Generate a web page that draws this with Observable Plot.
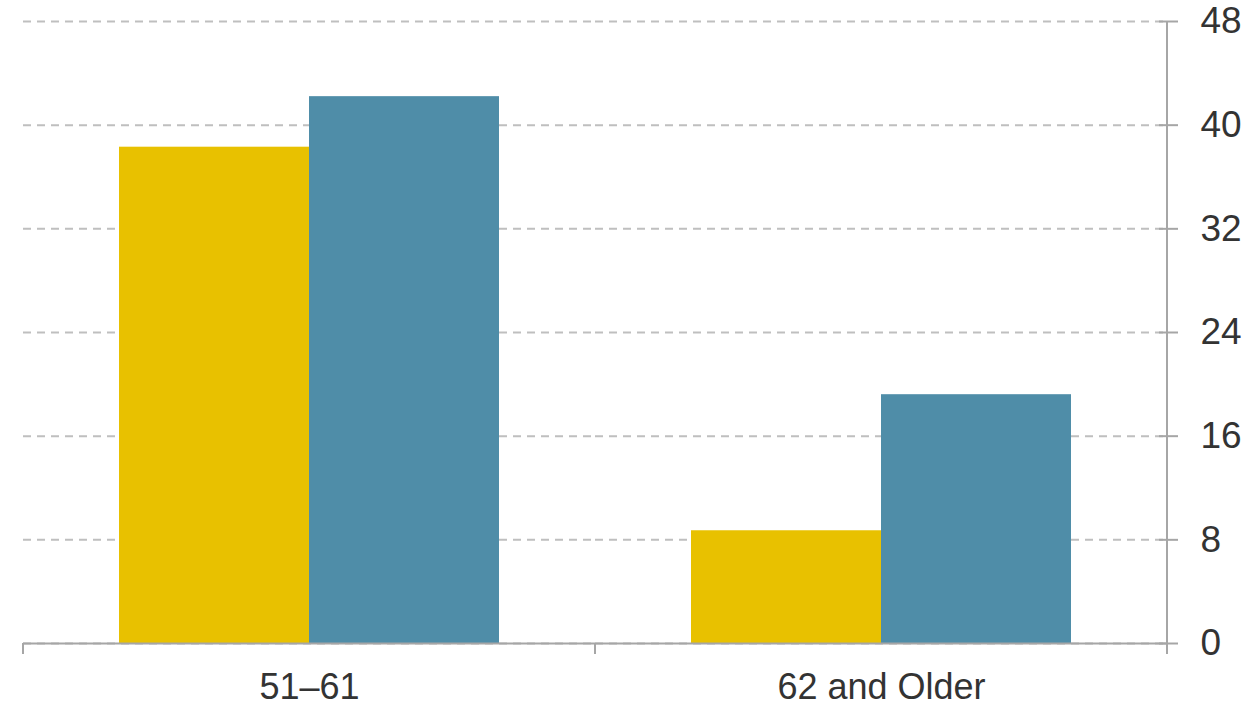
<!DOCTYPE html>
<html><head><meta charset="utf-8">
<script src="https://cdn.jsdelivr.net/npm/d3@7"></script>
<script src="https://cdn.jsdelivr.net/npm/@observablehq/plot@0.6"></script>
<style>html,body{margin:0;padding:0;background:#fff;} #chart{width:1252px;height:708px;}</style>
</head><body><div id="chart"></div>
<script>
const groups = ["51–61", "62 and Older"];
const seriesNames = ["Series 1", "Series 2"];
const series1 = [38.3, 8.7];
const series2 = [42.2, 19.2];
const colors = ["#e8c100", "#4f8da8"];
const yTicks = [0, 8, 16, 24, 32, 40, 48];

const data = groups.flatMap((g, i) => [
  {group: g, series: seriesNames[0], value: series1[i]},
  {group: g, series: seriesNames[1], value: series2[i]}
]);

const axisColor = "#a6a6a6";
const plot = Plot.plot({
  width: 1252, height: 708,
  marginLeft: 22, marginRight: 85, marginTop: 21, marginBottom: 65,
  style: {fontFamily: "'Liberation Sans', Arial, sans-serif", fontSize: "37px", color: "#333", background: "#fff"},
  fx: {domain: groups, padding: 0, label: null},
  x: {domain: seriesNames, paddingInner: 0, paddingOuter: 0.5, axis: null},
  y: {domain: [0, 48], label: null},
  color: {domain: seriesNames, range: colors},
  marks: [
    Plot.gridY(yTicks, {stroke: "#bfbfbf", strokeOpacity: 1, strokeWidth: 2, strokeDasharray: "8,6"}),
    Plot.barY(data, {fx: "group", x: "series", y: "value", fill: "series"}),
    Plot.ruleY([0], {stroke: axisColor, strokeWidth: 2}),
    Plot.axisY(yTicks, {anchor: "right", tickSize: 19, dx: -9, tickPadding: 23, stroke: axisColor, strokeWidth: 2, fill: "#333", fontSize: 37, label: null}),
    Plot.axisFx({anchor: "bottom", tickSize: 0, tickPadding: 30, fontSize: 36, fill: "#333", label: null})
  ]
});

document.getElementById("chart").appendChild(plot);

// Axis frame decorations drawn from the library's own scales
const fxS = plot.scale("fx"), yS = plot.scale("y");
const y0 = yS.apply(0), yTop = yS.apply(48);
const edges = groups.map(g => fxS.apply(g));
edges.push(fxS.apply(groups[groups.length - 1]) + fxS.bandwidth);
const svg = d3.select(plot);
const g = svg.append("g").attr("stroke", axisColor).attr("stroke-width", 2);
edges.forEach(x => g.append("line").attr("x1", x).attr("x2", x).attr("y1", y0).attr("y2", y0 + 11));
const xr = edges[edges.length - 1];
g.append("line").attr("x1", xr).attr("x2", xr).attr("y1", yTop).attr("y2", y0 + 11);
</script>
</body></html>
